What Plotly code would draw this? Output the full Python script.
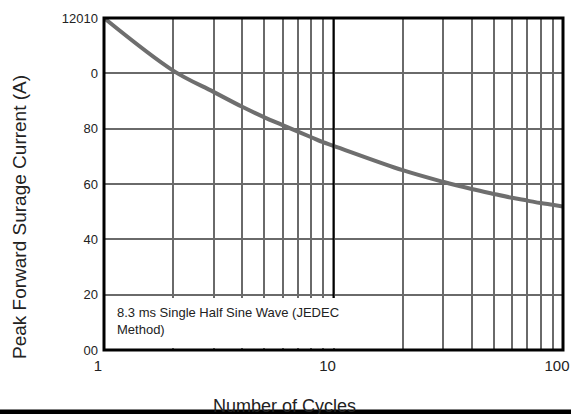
import plotly.graph_objects as go

cycles = [1, 2, 3, 4, 5, 6, 7, 8, 9, 10, 20, 30, 40, 50, 60, 70, 80, 90, 100]
current = [120, 101, 93.3, 87.9, 84.1, 81.3, 78.9, 76.9, 75.1, 73.8,
           65, 60.8, 58.2, 56.4, 55, 54, 53.1, 52.5, 51.9]

x_tickvals = [1, 2, 3, 4, 5, 6, 7, 8, 9, 10, 20, 30, 40, 50, 60, 70, 80, 90, 100]
x_ticktext = ["1", "", "", "", "", "", "", "", "", "10", "", "", "", "", "", "", "", "", "100"]
y_tickvals = [0, 20, 40, 60, 80, 100, 120]
y_ticktext = ["00", "20", "40", "60", "80", "0", "12010"]

x_title = "Number of Cycles"
y_title = "Peak Forward Surage Current (A)"
note = "8.3 ms Single Half Sine Wave (JEDEC<br>Method)"

W, H = 571, 414
L, R, T, B = 104, 8, 18, 64
pw, ph = W - L - R, H - T - B

def px_x(p):
    return (p - L) / pw

def px_y(p):
    return (H - B - p) / ph

fig = go.Figure()
fig.add_trace(go.Scatter(
    x=cycles, y=current, mode="lines",
    line=dict(color="#6e6e6e", width=4, shape="spline"),
    hoverinfo="skip", showlegend=False,
))

font = "Liberation Sans, Arial, sans-serif"

fig.update_layout(
    width=W, height=H, autosize=False,
    margin=dict(l=L, r=R, t=T, b=B, pad=0, autoexpand=False),
    paper_bgcolor="white", plot_bgcolor="white",
    font=dict(family=font, color="#222222"),
    showlegend=False,
    xaxis=dict(
        type="log", range=[0, 2], automargin=False,
        tickmode="array", tickvals=x_tickvals, ticktext=x_ticktext,
        showgrid=True, gridcolor="#6a6a6a", gridwidth=1.5,
        showline=False, zeroline=False, ticks="",
        tickfont=dict(size=15, family=font, color="#222222"),
        ticklabelstandoff=5, ticklabelshift=-6,
    ),
    yaxis=dict(
        range=[0, 120], automargin=False,
        tickmode="array", tickvals=y_tickvals, ticktext=y_ticktext,
        showgrid=True, gridcolor="#6a6a6a", gridwidth=1.5,
        showline=False, zeroline=False, ticks="",
        tickfont=dict(size=13, family=font, color="#222222"),
        ticklabelstandoff=5,
    ),
)

shapes = []
# white note box covering grid
shapes.append(dict(type="rect", xref="paper", yref="paper",
                   x0=px_x(104), x1=px_x(392), y0=px_y(348), y1=px_y(298),
                   fillcolor="white", line=dict(width=0), layer="above"))
# black line at x=10 (log midpoint of 1..100)
shapes.append(dict(type="line", xref="paper", yref="paper",
                   x0=0.5, x1=0.5, y0=px_y(298), y1=1,
                   line=dict(color="black", width=2), layer="above"))
# plot border
shapes.append(dict(type="rect", xref="paper", yref="paper",
                   x0=0, x1=1, y0=0, y1=1,
                   line=dict(color="black", width=3), fillcolor="rgba(0,0,0,0)", layer="above"))
# bottom black bar
shapes.append(dict(type="rect", xref="paper", yref="paper",
                   x0=px_x(0), x1=px_x(W), y0=px_y(H), y1=px_y(409.5),
                   fillcolor="black", line=dict(width=0), layer="above"))
fig.update_layout(shapes=shapes)

fig.add_annotation(text=note, xref="paper", yref="paper",
                   x=px_x(115), y=px_y(303), xanchor="left", yanchor="top",
                   align="left", showarrow=False,
                   font=dict(size=13, family=font, color="#222222"))
fig.add_annotation(text=x_title, xref="paper", yref="paper",
                   x=px_x(284), y=px_y(406), xanchor="center", yanchor="middle",
                   showarrow=False,
                   font=dict(size=18, family=font, color="#222222"))
fig.add_annotation(text=y_title, xref="paper", yref="paper",
                   x=px_x(19), y=px_y(217), xanchor="center", yanchor="middle",
                   textangle=-90, showarrow=False,
                   font=dict(size=19, family=font, color="#222222"))

fig.write_html(
    "out.html", config={"displayModeBar": False},
    post_script="document.body.style.margin='0px';",
)
